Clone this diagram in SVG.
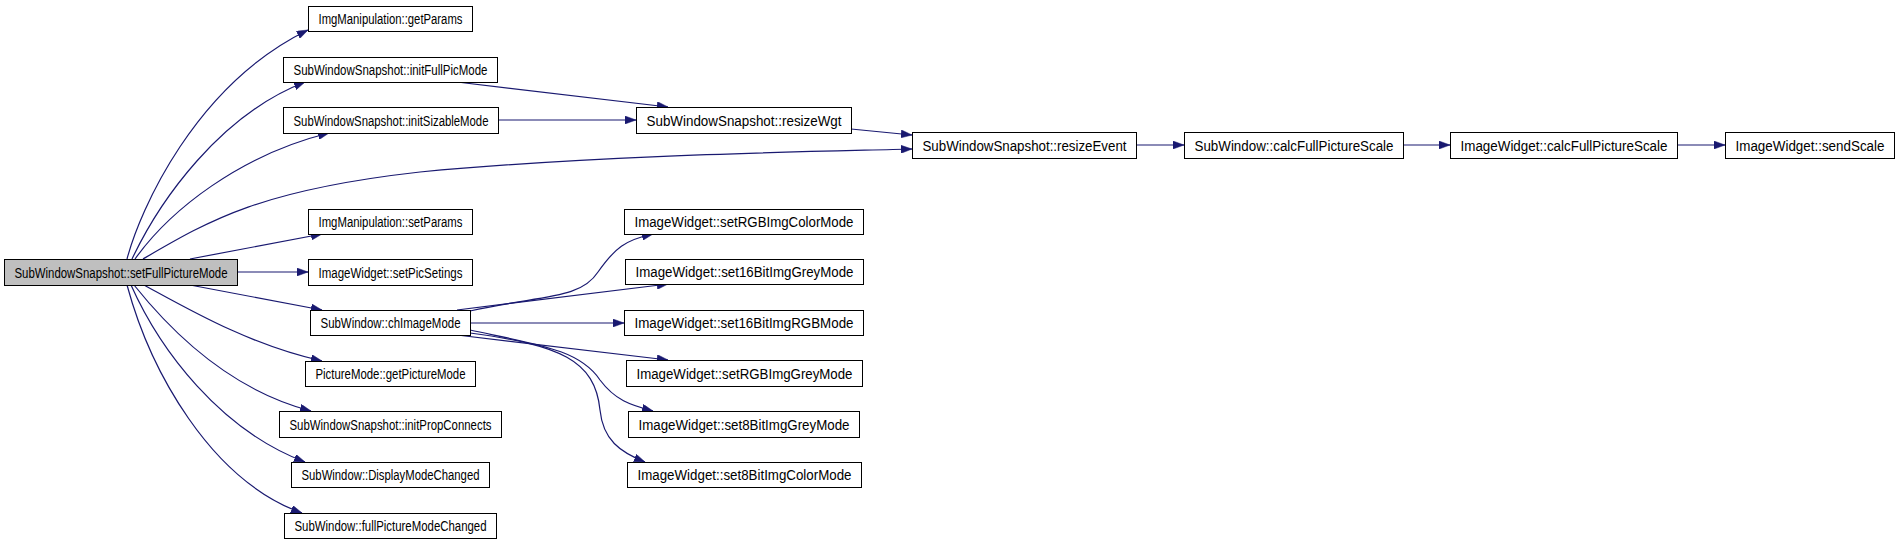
<svg xmlns="http://www.w3.org/2000/svg" width="1899" height="544" viewBox="0 0 1899 544">
<style>
.node rect{fill:#ffffff;stroke:#000000;stroke-width:1}
.node.root rect{fill:#bfbfbf}
.node text{font-family:"Liberation Sans",Arial,sans-serif;font-size:14px;fill:#000;text-anchor:middle}
.edges path{fill:none;stroke:#191970;stroke-width:1.2;marker-end:url(#arr)}
</style>
<defs>
<marker id="arr" viewBox="0 0 11 8" refX="11" refY="4" markerWidth="11" markerHeight="8" markerUnits="userSpaceOnUse" orient="auto">
<path d="M0,0 L11,4 L0,8 Z" fill="#191970" stroke="#191970" stroke-width="0.5"/>
</marker>
</defs>
<rect width="1899" height="544" fill="#ffffff"/>
<g class="edges">
<path d="M127,259 C140,210 195,85 308,30"/>
<path d="M132,259 C160,200 220,115 305,82"/>
<path d="M135,259 C170,210 240,155 329,133"/>
<path d="M143,259 C210,220 260,190 420,172 C600,155 800,152 912,149"/>
<path d="M190,259 L322,234"/>
<path d="M237,272 L308,272"/>
<path d="M190,285 L322,310"/>
<path d="M144,285 C190,310 250,345 322,361"/>
<path d="M134,285 C170,330 230,390 311,411"/>
<path d="M131,285 C160,350 220,430 305,462"/>
<path d="M127,285 C150,370 210,480 302,513"/>
<path d="M457,82 L668,107"/>
<path d="M498,120 L636,120"/>
<path d="M851,129 L912,135"/>
<path d="M1136,145 L1184,145"/>
<path d="M1403,145 L1450,145"/>
<path d="M1677,145 L1725,145"/>
<path d="M470,311 C540,295 580,300 598,272 C615,248 625,240 653,234"/>
<path d="M457,310 L668,284"/>
<path d="M470,323 L624,323"/>
<path d="M457,335 L668,360"/>
<path d="M470,330 C540,345 580,350 600,380 C615,400 630,405 653,411"/>
<path d="M470,333 C560,345 595,360 600,410 C603,440 620,452 645,462"/>
</g>
<g id="n0" class="node root"><rect x="4.5" y="259.5" width="233" height="26"/><text x="121" y="277.5" textLength="213" lengthAdjust="spacingAndGlyphs">SubWindowSnapshot::setFullPictureMode</text></g>
<g id="n1" class="node"><rect x="308.5" y="6.5" width="164" height="25"/><text x="390.5" y="24" textLength="144" lengthAdjust="spacingAndGlyphs">ImgManipulation::getParams</text></g>
<g id="n2" class="node"><rect x="283.5" y="57.5" width="214" height="25"/><text x="390.5" y="75" textLength="194" lengthAdjust="spacingAndGlyphs">SubWindowSnapshot::initFullPicMode</text></g>
<g id="n3" class="node"><rect x="283.5" y="107.5" width="215" height="26"/><text x="391" y="125.5" textLength="195" lengthAdjust="spacingAndGlyphs">SubWindowSnapshot::initSizableMode</text></g>
<g id="n4" class="node"><rect x="308.5" y="209.5" width="164" height="25"/><text x="390.5" y="227" textLength="144" lengthAdjust="spacingAndGlyphs">ImgManipulation::setParams</text></g>
<g id="n5" class="node"><rect x="308.5" y="259.5" width="164" height="26"/><text x="390.5" y="277.5" textLength="144" lengthAdjust="spacingAndGlyphs">ImageWidget::setPicSetings</text></g>
<g id="n6" class="node"><rect x="310.5" y="310.5" width="160" height="25"/><text x="390.5" y="328" textLength="140" lengthAdjust="spacingAndGlyphs">SubWindow::chImageMode</text></g>
<g id="n7" class="node"><rect x="305.5" y="361.5" width="170" height="25"/><text x="390.5" y="379" textLength="150" lengthAdjust="spacingAndGlyphs">PictureMode::getPictureMode</text></g>
<g id="n8" class="node"><rect x="279.5" y="411.5" width="222" height="26"/><text x="390.5" y="429.5" textLength="202" lengthAdjust="spacingAndGlyphs">SubWindowSnapshot::initPropConnects</text></g>
<g id="n9" class="node"><rect x="291.5" y="462.5" width="198" height="25"/><text x="390.5" y="480" textLength="178" lengthAdjust="spacingAndGlyphs">SubWindow::DisplayModeChanged</text></g>
<g id="n10" class="node"><rect x="284.5" y="513.5" width="212" height="25"/><text x="390.5" y="531" textLength="192" lengthAdjust="spacingAndGlyphs">SubWindow::fullPictureModeChanged</text></g>
<g id="n11" class="node"><rect x="636.5" y="107.5" width="215" height="26"/><text x="744" y="125.5" textLength="195" lengthAdjust="spacingAndGlyphs">SubWindowSnapshot::resizeWgt</text></g>
<g id="n12" class="node"><rect x="912.5" y="132.5" width="224" height="26"/><text x="1024.5" y="150.5" textLength="204" lengthAdjust="spacingAndGlyphs">SubWindowSnapshot::resizeEvent</text></g>
<g id="n13" class="node"><rect x="1184.5" y="132.5" width="219" height="26"/><text x="1294" y="150.5" textLength="199" lengthAdjust="spacingAndGlyphs">SubWindow::calcFullPictureScale</text></g>
<g id="n14" class="node"><rect x="1450.5" y="132.5" width="227" height="26"/><text x="1564" y="150.5" textLength="207" lengthAdjust="spacingAndGlyphs">ImageWidget::calcFullPictureScale</text></g>
<g id="n15" class="node"><rect x="1725.5" y="132.5" width="169" height="26"/><text x="1810" y="150.5" textLength="149" lengthAdjust="spacingAndGlyphs">ImageWidget::sendScale</text></g>
<g id="n16" class="node"><rect x="624.5" y="209.5" width="239" height="25"/><text x="744" y="227" textLength="219" lengthAdjust="spacingAndGlyphs">ImageWidget::setRGBImgColorMode</text></g>
<g id="n17" class="node"><rect x="625.5" y="259.5" width="238" height="25"/><text x="744.5" y="277" textLength="218" lengthAdjust="spacingAndGlyphs">ImageWidget::set16BitImgGreyMode</text></g>
<g id="n18" class="node"><rect x="624.5" y="310.5" width="239" height="25"/><text x="744" y="328" textLength="219" lengthAdjust="spacingAndGlyphs">ImageWidget::set16BitImgRGBMode</text></g>
<g id="n19" class="node"><rect x="626.5" y="360.5" width="236" height="26"/><text x="744.5" y="378.5" textLength="216" lengthAdjust="spacingAndGlyphs">ImageWidget::setRGBImgGreyMode</text></g>
<g id="n20" class="node"><rect x="628.5" y="411.5" width="231" height="26"/><text x="744" y="429.5" textLength="211" lengthAdjust="spacingAndGlyphs">ImageWidget::set8BitImgGreyMode</text></g>
<g id="n21" class="node"><rect x="627.5" y="462.5" width="234" height="25"/><text x="744.5" y="480" textLength="214" lengthAdjust="spacingAndGlyphs">ImageWidget::set8BitImgColorMode</text></g>
</svg>
